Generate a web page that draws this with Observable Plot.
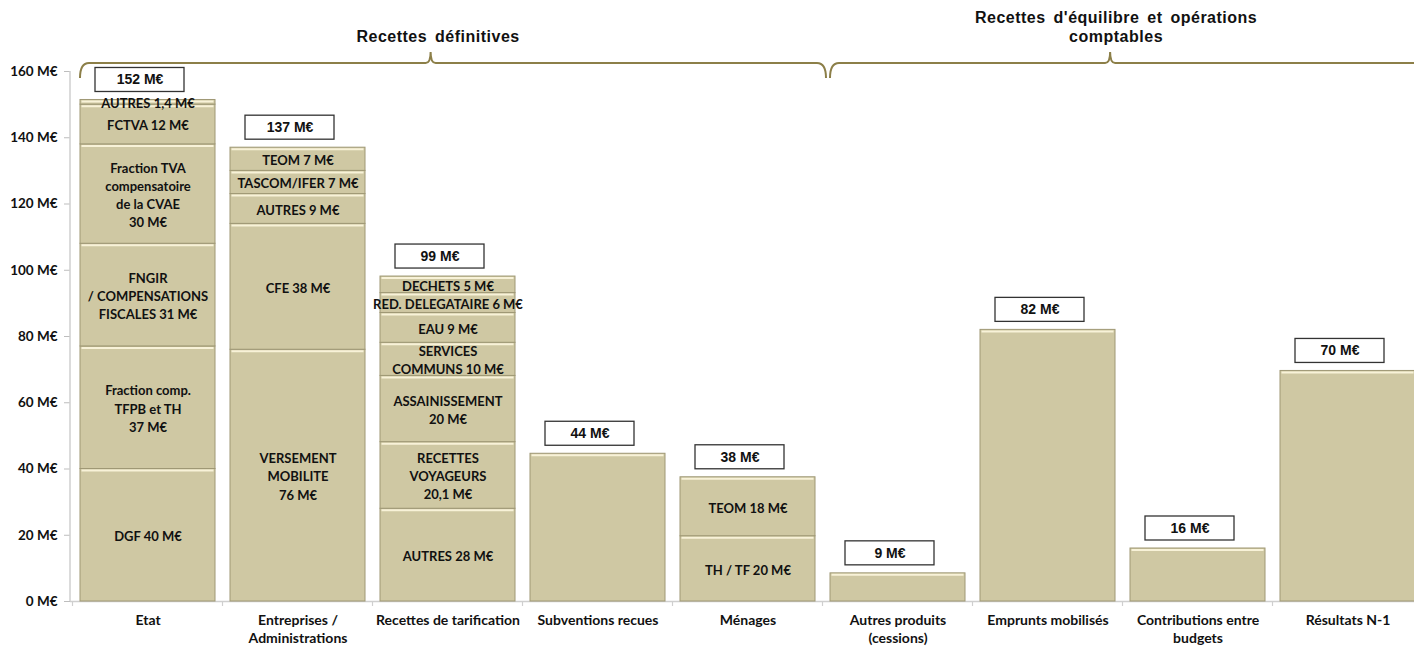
<!DOCTYPE html>
<html><head><meta charset="utf-8">
<script src="https://cdn.jsdelivr.net/npm/d3@7"></script>
<script src="https://cdn.jsdelivr.net/npm/@observablehq/plot@0.6"></script>
<style>
html,body{margin:0;padding:0;background:#fff;overflow:hidden;}
#chart{width:1425px;height:646px;}
#chart svg{max-width:none !important;display:block;}
</style></head><body><div id="chart"></div>
<script>
const categories = ["Etat", "Entreprises /\nAdministrations", "Recettes de tarification", "Subventions recues", "Ménages", "Autres produits\n(cessions)", "Emprunts mobilisés", "Contributions entre\nbudgets", "Résultats N-1"];
const yTicks = [0, 20, 40, 60, 80, 100, 120, 140, 160];

const segCategory = [
  "Etat", "Etat", "Etat", "Etat", "Etat", "Etat",
  "Entreprises /\nAdministrations", "Entreprises /\nAdministrations", "Entreprises /\nAdministrations", "Entreprises /\nAdministrations", "Entreprises /\nAdministrations",
  "Recettes de tarification", "Recettes de tarification", "Recettes de tarification", "Recettes de tarification", "Recettes de tarification", "Recettes de tarification", "Recettes de tarification",
  "Subventions recues",
  "Ménages", "Ménages",
  "Autres produits\n(cessions)",
  "Emprunts mobilisés",
  "Contributions entre\nbudgets",
  "Résultats N-1"
];
const segLabel = [
  "DGF 40 M€", "Fraction comp.\nTFPB et TH\n37 M€", "FNGIR\n/ COMPENSATIONS\nFISCALES 31 M€", "Fraction TVA\ncompensatoire\nde la CVAE\n30 M€", "FCTVA 12 M€", "AUTRES 1,4 M€",
  "VERSEMENT\nMOBILITE\n76 M€", "CFE 38 M€", "AUTRES 9 M€", "TASCOM/IFER 7 M€", "TEOM 7 M€",
  "AUTRES 28 M€", "RECETTES\nVOYAGEURS\n20,1 M€", "ASSAINISSEMENT\n20 M€", "SERVICES\nCOMMUNS 10 M€", "EAU 9 M€", "RED. DELEGATAIRE 6 M€", "DECHETS 5 M€",
  "",
  "TH / TF 20 M€", "TEOM 18 M€",
  "",
  "",
  "",
  ""
];
const segValue = [
  40, 37, 31, 30, 12, 1.4,
  76, 38, 9, 7, 7,
  28, 20.1, 20, 10, 9, 6, 5,
  44.6,
  19.7, 17.8,
  8.5,
  82,
  16,
  69.6
];
const totalText = ["152 M€", "137 M€", "99 M€", "44 M€", "38 M€", "9 M€", "82 M€", "16 M€", "70 M€"];
const groupTitle = ["Recettes définitives", "Recettes d'équilibre et opérations\ncomptables"];
const groupFirst = ["Etat", "Autres produits\n(cessions)"];
const groupLast = ["Ménages", "Résultats N-1"];

const segs = segValue.map((v, i) => ({cat: segCategory[i], label: segLabel[i], value: v}));
const totals = categories.map((c, i) => ({cat: c, total: d3.sum(segs.filter(s => s.cat === c), s => s.value), text: totalText[i]}));
const groups = groupTitle.map((t, i) => ({title: t, first: groupFirst[i], last: groupLast[i]}));

function decorations(index, scales, values, dimensions) {
  const x = scales.x;
  const bw = typeof x.bandwidth === "function" ? x.bandwidth() : scales.scales.x.bandwidth;
  const step = typeof x.step === "function" ? x.step() : bw / 0.9;
  const {height, marginLeft, marginTop, marginBottom} = dimensions;
  const y0 = height - marginBottom;
  const gap = (step - bw) / 2;
  const g = d3.create("svg:g");
  g.append("line").attr("x1", marginLeft).attr("x2", marginLeft).attr("y1", marginTop).attr("y2", y0)
    .attr("stroke", "#cfcfcf").attr("stroke-width", 1.5);
  categories.forEach((c, i) => {
    const xs = [x(c) - gap];
    if (i === categories.length - 1) xs.push(x(c) + bw + gap);
    xs.forEach(xx => g.append("line").attr("x1", xx).attr("x2", xx).attr("y1", y0).attr("y2", y0 + 5)
      .attr("stroke", "#cfcfcf").attr("stroke-width", 1.2));
  });
  const yb = marginTop - 8;
  groups.forEach(gr => {
    const s = x(gr.first);
    const e = x(gr.last) + bw + 11;
    const p = s + 0.47 * (e - s);
    const path = `M${s},${yb + 15} Q${s},${yb} ${s + 9},${yb} L${p - 5},${yb} Q${p},${yb} ${p},${yb - 11} Q${p},${yb} ${p + 5},${yb} L${e - 9},${yb} Q${e},${yb} ${e},${yb + 15}`;
    g.append("path").attr("d", path).attr("fill", "none").attr("stroke", "#8C7F48").attr("stroke-width", 2);
    const lines = gr.title.split("\n");
    const cx = s + 0.48 * (e - s);
    const t = g.append("text").attr("x", cx).attr("text-anchor", "middle")
      .attr("font-family", "Liberation Sans, Arial, sans-serif").attr("font-weight", "bold")
      .attr("font-size", 16).attr("letter-spacing", 0.5).attr("word-spacing", 3).attr("fill", "#111");
    lines.forEach((ln, k) => {
      t.append("tspan").attr("x", cx).attr("y", yb - 21 - (lines.length - 1 - k) * 19).text(ln);
    });
  });
  return g.node();
}

const chart = Plot.plot({
  width: 1425, height: 646,
  marginLeft: 70, marginRight: 0, marginTop: 71, marginBottom: 45,
  style: {background: "#fff", maxWidth: "none", fontFamily: "Lato, sans-serif"},
  x: {type: "band", domain: categories, paddingInner: 0.1, paddingOuter: 0.05, label: null},
  y: {domain: [0, 160], label: null},
  marks: [
    Plot.ruleY([0], {stroke: "#cfcfcf", strokeWidth: 1.5}),
    Plot.barY(segs, {x: "cat", y: "value", fill: "#CFC8A3", stroke: "#9F9875", strokeWidth: 1}),
    Plot.tickY(segs, Plot.stackY2({x: "cat", y: "value", stroke: "#F8F2D8", strokeWidth: 2, dy: 1.5, inset: 1.5})),
    Plot.text(segs.filter(d => d.label), Plot.stackY({x: "cat", y: "value", text: "label",
      fontFamily: "Lato, sans-serif", fontWeight: "bold", fontSize: 13, lineHeight: 1.4, fill: "#111"})),
    Plot.barY(totals, {x: "cat", y1: "total", y2: "total", fill: "white", stroke: "#333", strokeWidth: 1.3,
      insetLeft: 23, insetRight: 23, insetTop: -12, insetBottom: -12, dx: -8, dy: -20}),
    Plot.text(totals, {x: "cat", y: "total", text: "text", dx: -8, dy: -20,
      fontFamily: "Liberation Sans, Arial, sans-serif", fontWeight: "bold", fontSize: 14, fill: "#111"}),
    Plot.axisY(yTicks, {tickSize: 6, tickPadding: 7, tickFormat: d => `${d} M€`, label: null,
      stroke: "#bdbdbd", fill: "#111", fontSize: 13.5, fontWeight: "bold", fontFamily: "Lato, sans-serif"}),
    Plot.axisX({tickSize: 0, tickPadding: 11, label: null, fill: "#111", fontSize: 14, fontWeight: "bold",
      fontFamily: "Lato, sans-serif", lineHeight: 1.29}),
    decorations
  ]
});
document.getElementById("chart").append(chart);
</script>
</body></html>
